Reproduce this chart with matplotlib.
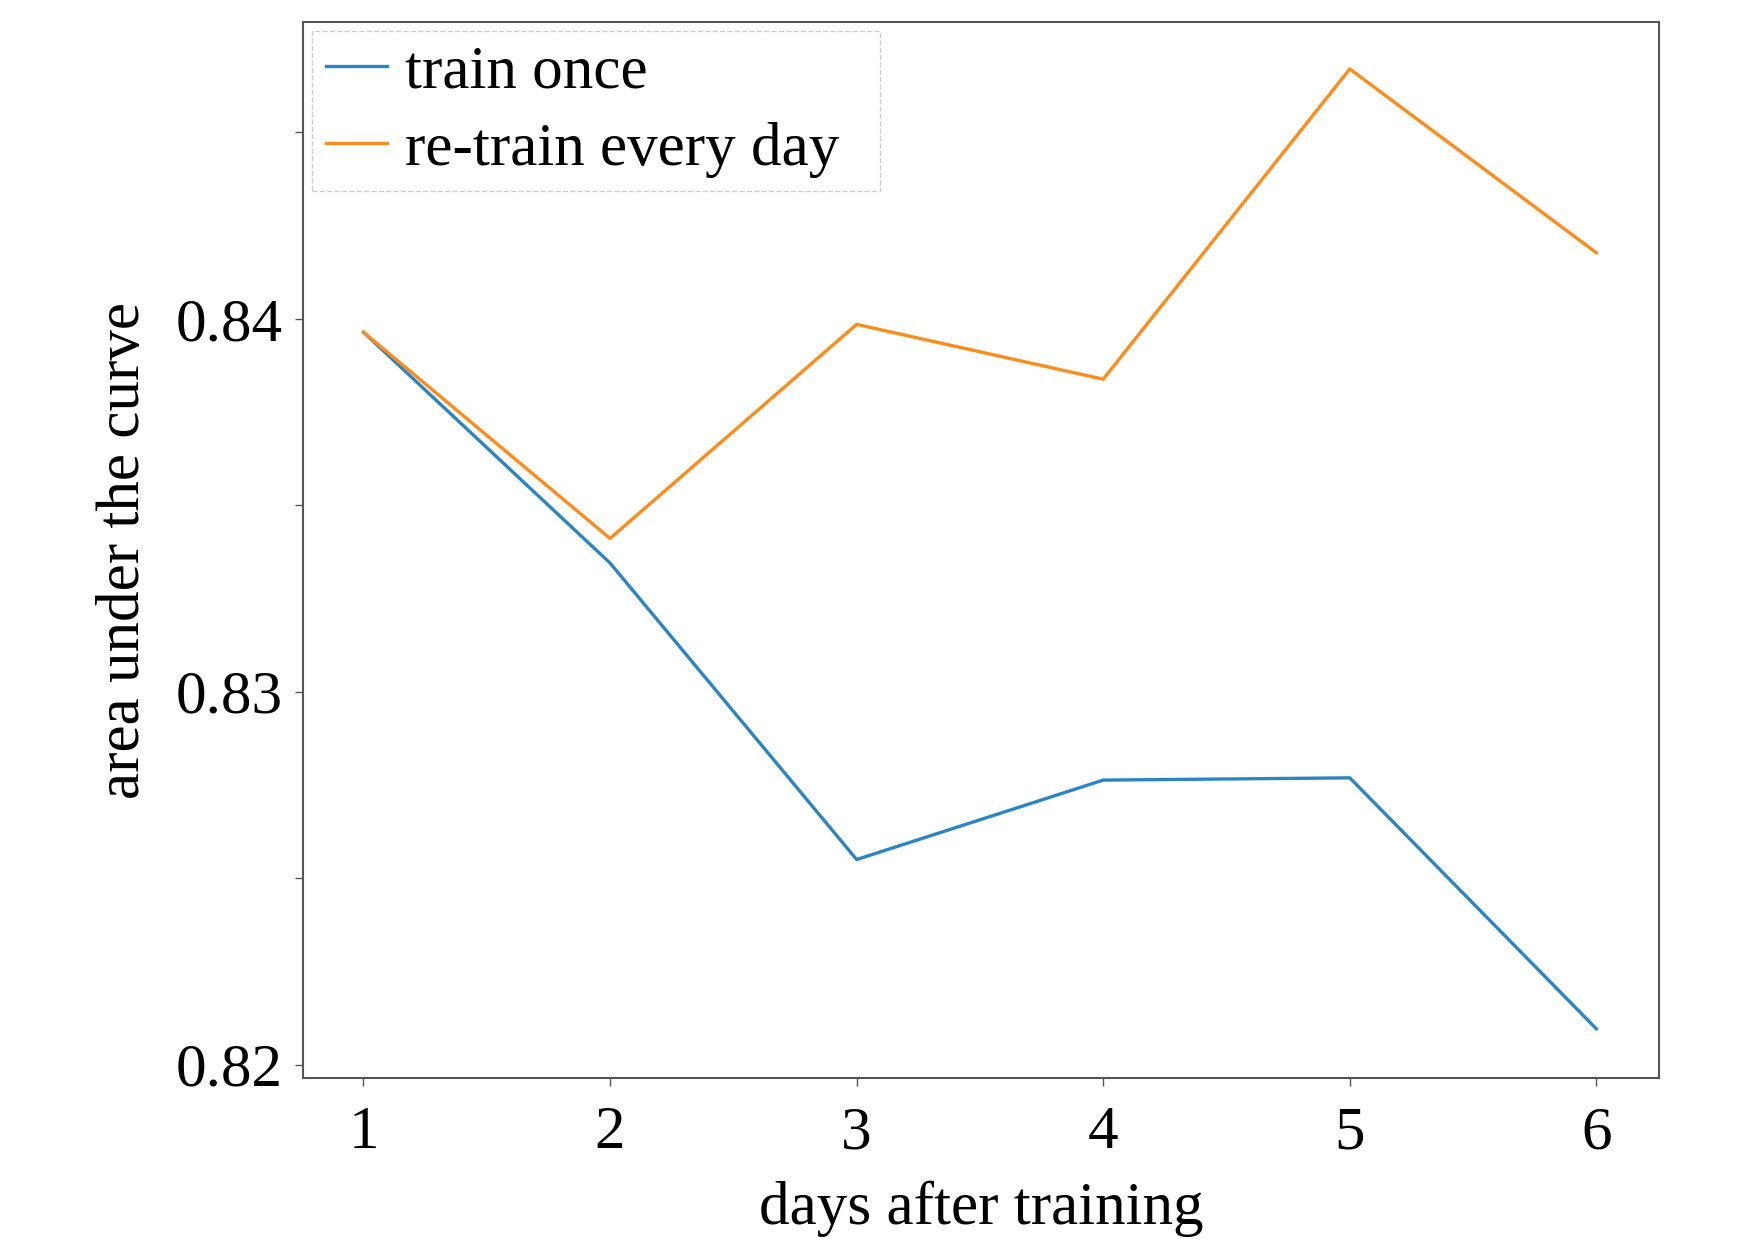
import matplotlib
matplotlib.use("Agg")
import matplotlib.pyplot as plt
import numpy as np

days = [1, 2, 3, 4, 5, 6]
train_once = [0.83964, 0.83345, 0.82550, 0.82763, 0.82769, 0.82096]
retrain_daily = [0.83964, 0.83411, 0.83985, 0.83838, 0.84670, 0.84177]
series_labels = ["train once", "re-train every day"]
ytick_values = [0.82, 0.825, 0.83, 0.835, 0.84, 0.845]
ytick_labels = ["0.82", "", "0.83", "", "0.84", ""]

plt.rcParams['font.family'] = ['Liberation Serif', 'DejaVu Serif']
fs = 44

fig = plt.figure(figsize=(17.55, 12.4), dpi=100)
ax = fig.add_axes([0.1727, 0.1306, 0.9453 - 0.1727, 0.9823 - 0.1306])

ax.plot(days, train_once, color='#2a84c6', lw=2.4, label=series_labels[0])
ax.plot(days, retrain_daily, color='#ff8b1a', lw=2.4, label=series_labels[1])

ax.set_xlim(0.755, 6.254)
ax.set_ylim(0.81964, 0.84796)
ax.set_xticks(days)
ax.set_xticklabels([str(d) for d in days])
ax.set_yticks(ytick_values)
ax.set_yticklabels(ytick_labels)
ax.tick_params(labelsize=fs, length=6, width=1.0, color='#555555')
ax.tick_params(axis='x', pad=14)
ax.tick_params(axis='y', pad=8.5)

for s in ax.spines.values():
    s.set_color('#555555')
    s.set_linewidth(1.5)

ax.set_xlabel("days after training", fontsize=fs, labelpad=14)
ax.set_ylabel("area under the curve", fontsize=fs, labelpad=17)

leg = ax.legend(loc='upper left', bbox_to_anchor=(0, 0, 0.432, 1), mode='expand',
                fontsize=fs, handlelength=1.0, handletextpad=0.3,
                borderaxespad=0.15, labelspacing=0.35, borderpad=0.22,
                fancybox=False, framealpha=1)
frame = leg.get_frame()
frame.set_edgecolor('#cccccc')
frame.set_linestyle('--')
frame.set_linewidth(1.0)

fig.savefig("out.png", dpi=100)
